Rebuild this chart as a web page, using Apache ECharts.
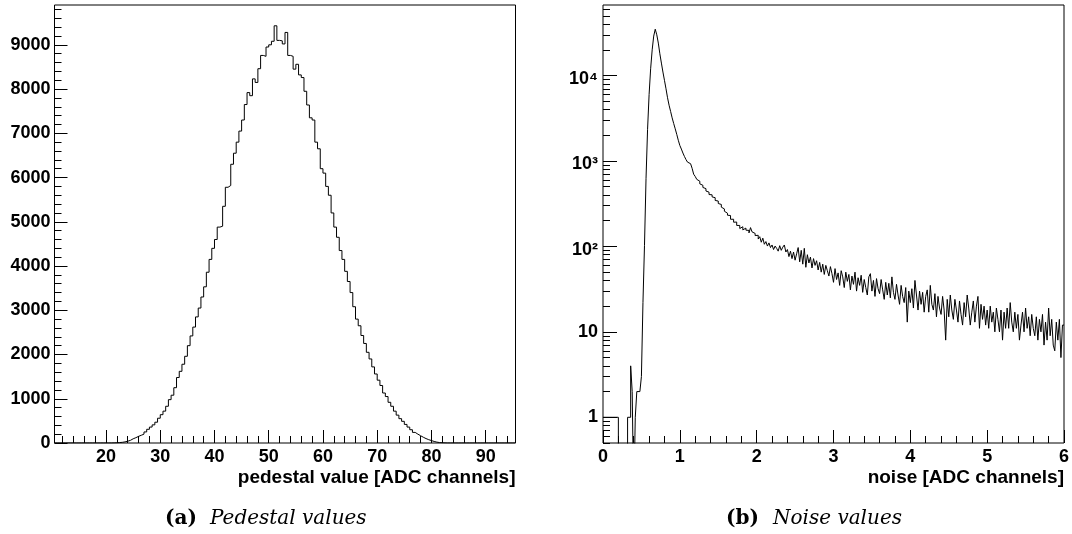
<!DOCTYPE html>
<html>
<head>
<meta charset="utf-8">
<script src="https://cdn.jsdelivr.net/npm/echarts@6/dist/echarts.min.js"></script>
<style>
html,body{margin:0;padding:0;background:#fff;}
#c{width:1072px;height:534px;}
</style>
</head>
<body>
<div id="c"></div>
<script>
// ---------------- data ----------------
const pedestalBinLow = 10.5;
const pedestalBinWidth = 0.5;
const pedestalCounts = [
  0,0,0,0,0,0,0,0,0,0,0,0,0,0,0,0,0,0,0,0,0,
  2,5,10,15,25,40,60,95,120,150,
  175,200,250,310,360,410,470,560,640,720,
  830,980,1080,1250,1480,1620,1780,1960,2200,2420,
  2620,2850,3050,3300,3530,3860,4150,4400,4600,4880,
  4900,5350,5780,5820,6300,6550,6800,7050,7300,7650,
  7920,7850,8230,8150,8460,8760,8740,8950,9000,9080,
  9430,9100,9090,9020,9280,8760,8740,8450,8560,8320,
  8260,7950,7640,7350,7300,6800,6650,6200,6100,5800,
  5600,5200,4880,4650,4350,4150,3880,3650,3400,3080,
  2800,2650,2430,2250,2050,1900,1720,1560,1420,1300,
  1130,1050,920,830,720,630,550,490,420,360,
  300,240,200,165,130,100,75,55,35,20,
  10,5,2,
  0,0,0,0,0,0,0,0,0,0,0,0,0,0,0,0,0,0,0,0,0,0,0,0,0,0
];

const noiseBinLow = 0;
const noiseBinWidth = 0.02;
const noiseCounts = [
  1,1,1,1,1,1,1,1,1,1,
  0,0,0,0,0,0,1,1,4,2,
  0,1,2,2,2,3,22,103,620,2350,
  6000,12000,20000,29000,34900,30000,24000,18000,14000,11000,
  8800,7000,5500,4500,3800,3200,2750,2380,2050,1750,
  1520,1380,1240,1130,1040,970,930,900,820,700,
  660,610,580,540,520,490,475,445,432,405,
  402,380,372,345,340,318,310,288,275,258,
  245,232,230,208,208,192,193,176,176,162,
  170,156,164,155,154,144,166,148,142,134,
  135,122,130,112,125,106,114,101,110,97,
  104,92,101,95,88,102,90,98,104,86,
  92,76,88,72,86,69,82,97,66,90,
  62,95,57,80,64,75,56,72,60,68,
  53,65,50,62,47,60,52,45,58,48,
  38,55,41,49,35,52,44,33,50,39,
  47,31,45,36,50,30,43,35,46,29,
  41,33,27,44,48,30,40,26,42,32,
  28,41,31,24,38,27,37,25,44,29,
  24,36,27,21,35,26,22,33,13,30,
  22,32,19,40,27,18,30,21,29,17,
  26,31,17,35,21,18,28,15,26,19,
  16,26,18,8,24,15,27,18,14,24,
  18,13,23,16,12,22,15,27,19,12,
  17,23,13,20,26,11,21,14,20,12,
  18,11,20,13,17,10,19,14,10,18,
  8,17,11,19,11,22,13,10,17,11,
  16,8,12,17,10,19,11,15,9,16,
  11,9,15,8,14,10,16,7,13,8,
  19,9,14,7,6,13,8,14,5,12
];

const pedestalXTicks = [20, 30, 40, 50, 60, 70, 80, 90];
const pedestalYTicks = [0, 1000, 2000, 3000, 4000, 5000, 6000, 7000, 8000, 9000];
const noiseXTicks = [0, 1, 2, 3, 4, 5, 6];
const noiseYTicks = [1, 10, 100, 1000, 10000];
const noiseYTickLabels = ['1', '10', '10\u00B2', '10\u00B3', '10\u2074'];

const pedestalTitle = 'pedestal value [ADC channels]';
const noiseTitle = 'noise [ADC channels]';
const captionA = ['(a)', 'Pedestal values'];
const captionB = ['(b)', 'Noise values'];

// ---------------- helpers ----------------
const SANS = '"Liberation Sans", Arial, sans-serif';
const SERIF = '"DejaVu Serif", serif';

function stepPoints(low, width, counts, floor) {
  const pts = counts.map((c, i) => [low + i * width, (floor != null && c <= 0) ? floor : c]);
  const last = counts[counts.length - 1];
  pts.push([low + counts.length * width, (floor != null && last <= 0) ? floor : last]);
  return pts;
}

function range(a, b, step) {
  const out = [];
  for (let v = a; v <= b + 1e-9; v += step) out.push(Math.round(v * 1000) / 1000);
  return out;
}

const labelStyle = { fontFamily: SANS, fontWeight: 'bold', fontSize: 18, color: '#000' };
const plain = v => String(Math.round(v * 1000) / 1000);

function majorAxis(extra) {
  return Object.assign({
    axisLine: { show: false },
    splitLine: { show: false },
  }, extra);
}
function minorAxis(extra) {
  return Object.assign({
    axisLine: { show: false },
    splitLine: { show: false },
    axisLabel: { show: false },
  }, extra);
}

// minor tick positions
const pedXMinor = range(12, 94, 2).filter(v => v % 10 !== 0);
const pedYMinor = range(200, 9800, 200).filter(v => v % 1000 !== 0);
const noiseXMinor = range(0.2, 5.8, 0.2).filter(v => Math.abs(v - Math.round(v)) > 1e-6);
const noiseYMinor = [];
for (let e = -1; e <= 4; e++) for (let m = 2; m <= 9; m++) noiseYMinor.push(+(m * Math.pow(10, e)).toPrecision(3));

const pedRange = [10.5, 95.5];
const pedYMax = 9900;
const noiseYRange = [0.5, 67000];

const chart = echarts.init(document.getElementById('c'), null, { renderer: 'canvas' });

chart.setOption({
  animation: false,
  backgroundColor: '#fff',
  grid: [
    { left: 54.5, top: 5, width: 461, height: 438, show: true, borderColor: '#000', borderWidth: 1, backgroundColor: 'transparent', containLabel: false, outerBoundsMode: 'none' },
    { left: 603, top: 5, width: 461, height: 438, show: true, borderColor: '#000', borderWidth: 1, backgroundColor: 'transparent', containLabel: false, outerBoundsMode: 'none' }
  ],
  xAxis: [
    majorAxis({ type: 'value', gridIndex: 0, position: 'bottom', min: pedRange[0], max: pedRange[1],
      axisTick: { show: true, inside: true, length: 13, customValues: pedestalXTicks, lineStyle: { color: '#000' } },
      axisLabel: Object.assign({ margin: 5, customValues: pedestalXTicks, formatter: plain }, labelStyle) }),
    minorAxis({ type: 'value', gridIndex: 0, position: 'bottom', min: pedRange[0], max: pedRange[1],
      axisTick: { show: true, inside: true, length: 7, customValues: pedXMinor, lineStyle: { color: '#000' } } }),
    majorAxis({ type: 'value', gridIndex: 1, position: 'bottom', min: 0, max: 6,
      axisTick: { show: true, inside: true, length: 13, customValues: noiseXTicks, lineStyle: { color: '#000' } },
      axisLabel: Object.assign({ margin: 5, customValues: noiseXTicks, formatter: plain }, labelStyle) }),
    minorAxis({ type: 'value', gridIndex: 1, position: 'bottom', min: 0, max: 6,
      axisTick: { show: true, inside: true, length: 7, customValues: noiseXMinor, lineStyle: { color: '#000' } } })
  ],
  yAxis: [
    majorAxis({ type: 'value', gridIndex: 0, position: 'left', min: 0, max: pedYMax,
      axisTick: { show: true, inside: true, length: 13, customValues: pedestalYTicks, lineStyle: { color: '#000' } },
      axisLabel: Object.assign({ margin: 4, customValues: pedestalYTicks, formatter: plain }, labelStyle) }),
    minorAxis({ type: 'value', gridIndex: 0, position: 'left', min: 0, max: pedYMax,
      axisTick: { show: true, inside: true, length: 7, customValues: pedYMinor, lineStyle: { color: '#000' } } }),
    majorAxis({ type: 'log', logBase: 10, gridIndex: 1, position: 'left', min: noiseYRange[0], max: noiseYRange[1],
      axisTick: { show: true, inside: true, length: 14, customValues: noiseYTicks, lineStyle: { color: '#000' } },
      axisLabel: {
        margin: 5, customValues: noiseYTicks,
        formatter: function (v) {
          const n = Math.round(Math.log10(v));
          const txt = noiseYTickLabels[n] || String(v);
          return n >= 2 ? '{e|' + txt + '}' : '{p|' + txt + '}';
        },
        rich: {
          p: { fontFamily: SANS, fontWeight: 'bold', fontSize: 18, color: '#000', lineHeight: 18 },
          e: { fontFamily: SANS, fontWeight: 'bold', fontSize: 18, color: '#000', lineHeight: 18, padding: [7, 0, 0, 0] }
        }
      } }),
    minorAxis({ type: 'log', logBase: 10, gridIndex: 1, position: 'left', min: noiseYRange[0], max: noiseYRange[1],
      axisTick: { show: true, inside: true, length: 7, customValues: noiseYMinor, lineStyle: { color: '#000' } } })
  ],
  series: [
    { type: 'line', xAxisIndex: 0, yAxisIndex: 0, step: 'end', showSymbol: false, symbol: 'none', clip: true,
      lineStyle: { color: '#000', width: 1 }, data: stepPoints(pedestalBinLow, pedestalBinWidth, pedestalCounts, null) },
    { type: 'line', xAxisIndex: 2, yAxisIndex: 2, step: 'end', showSymbol: false, symbol: 'none', clip: true,
      lineStyle: { color: '#000', width: 1 }, data: stepPoints(noiseBinLow, noiseBinWidth, noiseCounts, 0.1) }
  ],
  graphic: [
    { type: 'text', right: 1072 - 515.5, top: 468, style: { text: pedestalTitle, font: 'bold 19px ' + SANS, fill: '#000' } },
    { type: 'text', right: 1072 - 1064, top: 468, style: { text: noiseTitle, font: 'bold 19px ' + SANS, fill: '#000' } },
    { type: 'text', left: 165, top: 509, style: { text: captionA[0], font: 'bold 20px ' + SERIF, fill: '#000' } },
    { type: 'text', left: 210, top: 509, style: { text: captionA[1], font: 'italic 20px ' + SERIF, fill: '#000' } },
    { type: 'text', left: 726, top: 509, style: { text: captionB[0], font: 'bold 20px ' + SERIF, fill: '#000' } },
    { type: 'text', left: 773, top: 509, style: { text: captionB[1], font: 'italic 20px ' + SERIF, fill: '#000' } }
  ]
});
</script>
</body>
</html>
